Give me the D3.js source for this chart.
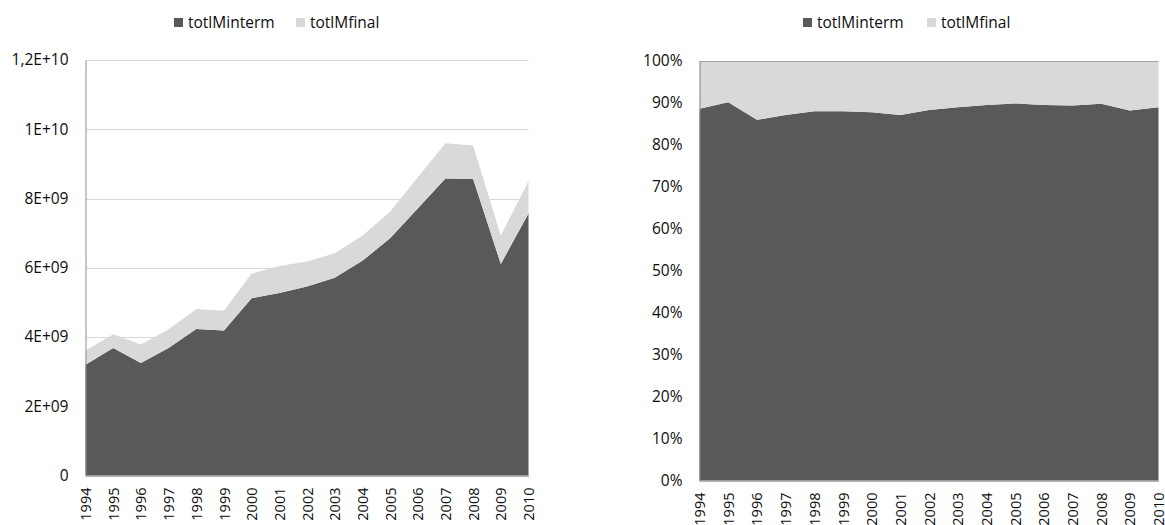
<!DOCTYPE html>
<html><head><meta charset="utf-8">
<script src="https://cdn.jsdelivr.net/npm/d3@7"></script>
<style>
body{margin:0;background:#fff;}
svg{display:block;font-family:"Open Sans",sans-serif;}
</style></head>
<body><svg id="c" width="1165" height="525"></svg>
<script>
const years = [1994,1995,1996,1997,1998,1999,2000,2001,2002,2003,2004,2005,2006,2007,2008,2009,2010];
const totlMinterm = [3.20e9,3.68e9,3.25e9,3.68e9,4.23e9,4.19e9,5.12e9,5.27e9,5.46e9,5.71e9,6.20e9,6.85e9,7.71e9,8.58e9,8.56e9,6.11e9,7.57e9];
const totlMfinal  = [0.41e9,0.40e9,0.53e9,0.545e9,0.577e9,0.571e9,0.711e9,0.78e9,0.723e9,0.706e9,0.727e9,0.77e9,0.905e9,1.017e9,0.972e9,0.817e9,0.936e9];
const seriesNames = ["totlMinterm","totlMfinal"];
const colors = ["#595959","#d9d9d9"];
const absTicks = [0,2e9,4e9,6e9,8e9,1e10,1.2e10];
const absTickLabels = ["0","2E+09","4E+09","6E+09","8E+09","1E+10","1,2E+10"];
const pctTicks = [0,0.1,0.2,0.3,0.4,0.5,0.6,0.7,0.8,0.9,1];

const rows = years.map((y,i)=>({year:y,totlMinterm:totlMinterm[i],totlMfinal:totlMfinal[i]}));
const svg = d3.select("#c");

function drawChart(cfg){
  const g = svg.append("g");
  const x = d3.scaleLinear().domain([years[0],years[years.length-1]]).range([cfg.x0,cfg.x1]);
  const y = d3.scaleLinear().domain(cfg.domain).range([cfg.y1,cfg.y0]);
  const stack = d3.stack().keys(seriesNames).offset(cfg.offset);
  const layers = stack(rows);
  g.append("g").selectAll("line").data(cfg.ticks).join("line")
    .attr("x1",cfg.x0).attr("x2",cfg.x1)
    .attr("y1",d=>Math.round(y(d))+0.5).attr("y2",d=>Math.round(y(d))+0.5)
    .attr("stroke","#d9d9d9").attr("stroke-width",1);
  const area = d3.area().x(d=>x(d.data.year)).y0(d=>y(d[0])).y1(d=>y(d[1]));
  g.append("g").selectAll("path").data(layers).join("path")
    .attr("d",area).attr("fill",(d,i)=>colors[i]);
  if(cfg.topLine){
    g.append("line").attr("x1",cfg.x0).attr("x2",cfg.x1)
      .attr("y1",Math.round(y(1))+0.5).attr("y2",Math.round(y(1))+0.5)
      .attr("stroke","#a6a6a6");
  }
  const ya = d3.axisLeft(y).tickValues(cfg.ticks).tickSize(0).tickPadding(cfg.tickPad).tickFormat(cfg.fmt);
  const yg = g.append("g").attr("transform",`translate(${cfg.x0},0)`).call(ya);
  yg.select(".domain").attr("stroke","#8c8c8c");
  yg.selectAll("text").attr("font-size","15.5px").attr("fill","#0d0d0d").attr("font-family","'Open Sans',sans-serif");
  const xa = d3.axisBottom(x).tickValues(years).tickSize(0).tickFormat(d3.format("d"));
  const xg = g.append("g").attr("transform",`translate(0,${cfg.y1})`).call(xa);
  xg.select(".domain").attr("stroke","#8c8c8c");
  xg.selectAll("text").attr("font-size","14.5px").attr("fill","#0d0d0d").attr("font-family","'Open Sans',sans-serif")
    .attr("transform","rotate(-90)").attr("text-anchor","end").attr("dy","0.35em")
    .attr("x",-cfg.labGap).attr("y",0);
  const lg = g.append("g");
  seriesNames.forEach((n,i)=>{
    lg.append("rect").attr("x",cfg.leg[i]).attr("y",18).attr("width",9).attr("height",9).attr("fill",colors[i]);
    lg.append("text").attr("x",cfg.leg[i]+14).attr("y",27.5).attr("font-size","15.5px").attr("fill","#0d0d0d").text(n);
  });
}

drawChart({x0:85.5,x1:528.5,y0:60,y1:475.5,domain:[0,1.2e10],ticks:absTicks,
  fmt:(d)=>absTickLabels[absTicks.indexOf(d)],offset:d3.stackOffsetNone,tickPad:17,labGap:12,
  leg:[174,296],topLine:false});
drawChart({x0:699.5,x1:1158.5,y0:61,y1:480.5,domain:[0,1],ticks:pctTicks,
  fmt:d3.format(".0%"),offset:d3.stackOffsetExpand,tickPad:17,labGap:12,
  leg:[803,927],topLine:true});
</script></body></html>
